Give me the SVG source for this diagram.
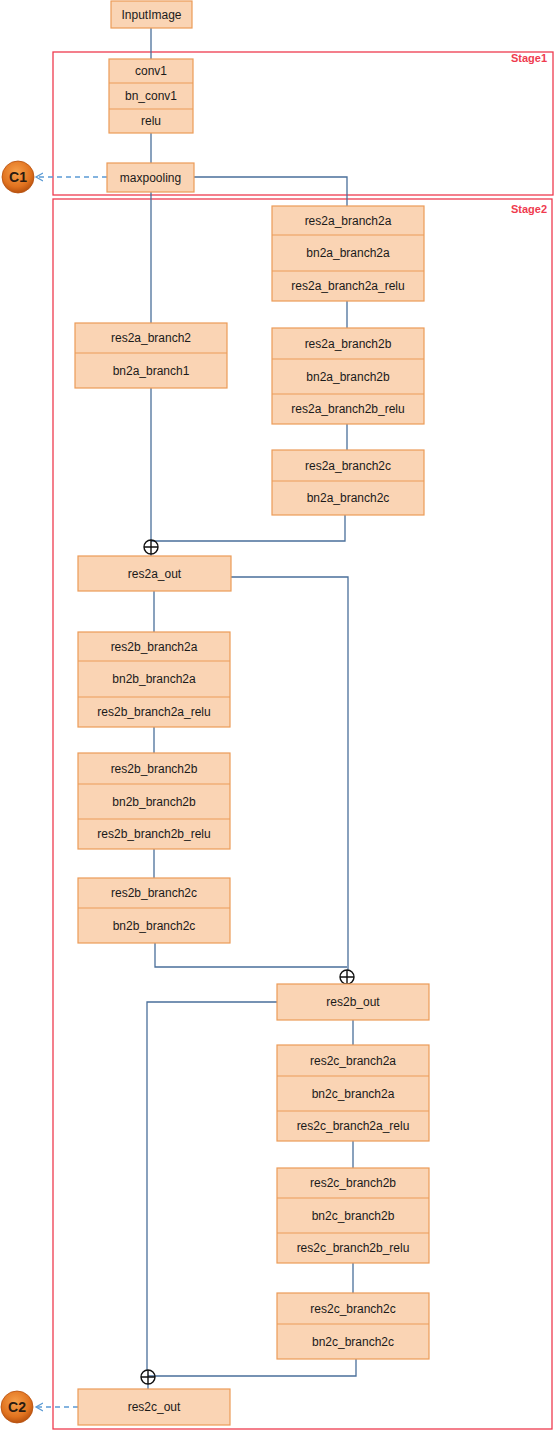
<svg xmlns="http://www.w3.org/2000/svg" width="554" height="1431" viewBox="0 0 554 1431">
<style>
.box{fill:#fad4b4;stroke:#eb9b58;stroke-width:1.2}
.div{stroke:#eb9b58;stroke-width:1.2}
.t{font-family:"Liberation Sans",Arial,sans-serif;font-size:12px;fill:#1a1a1a;text-anchor:middle}
.stage{fill:none;stroke:#ef3b4f;stroke-width:1.3}
.st{font-family:"Liberation Sans",Arial,sans-serif;font-size:11px;font-weight:bold;fill:#ef3b4f;text-anchor:end}
.c{fill:none;stroke:#4a6f9a;stroke-width:1.3}
.d{fill:none;stroke:#5b9bd5;stroke-width:1.3;stroke-dasharray:5,4}
.plus{fill:none;stroke:#111;stroke-width:1.4}
.cl{font-family:"Liberation Sans",Arial,sans-serif;font-size:14px;font-weight:bold;fill:#2a1a10;text-anchor:middle}
</style>
<defs>
<radialGradient id="og" cx="45%" cy="35%" r="65%">
<stop offset="0" stop-color="#f7a04a"/>
<stop offset="0.7" stop-color="#e0721f"/>
<stop offset="1" stop-color="#b8510e"/>
</radialGradient>
<marker id="ah" markerWidth="10" markerHeight="10" refX="7" refY="5" orient="auto" markerUnits="userSpaceOnUse">
<path d="M0,1 L7,5 L0,9" fill="none" stroke="#5b9bd5" stroke-width="1.3"/>
</marker>
</defs>

<g id="stages">
<rect class="stage" x="53" y="52" width="500" height="143"/>
<text class="st" x="547" y="62">Stage1</text>
<rect class="stage" x="53" y="199" width="499" height="1230"/>
<text class="st" x="547" y="213">Stage2</text>
</g>

<g id="C1">
<circle cx="18" cy="177" r="16" fill="url(#og)" stroke="#b8510e" stroke-width="0.8"/>
<text class="cl" x="18" y="182">C1</text>
</g>
<g id="C2">
<circle cx="17" cy="1407" r="16" fill="url(#og)" stroke="#b8510e" stroke-width="0.8"/>
<text class="cl" x="17" y="1412">C2</text>
</g>

<g id="connectors">
<path class="c" d="M151,28 V59"/>
<path class="c" d="M151,133 V163"/>
<path class="c" d="M151,192 V323"/>
<path class="c" d="M194,177 H347 V206"/>
<path class="c" d="M347,301 V328"/>
<path class="c" d="M347,424 V450"/>
<path class="c" d="M345,515 V541 H151"/>
<path class="c" d="M151,388 V540"/>
<path class="c" d="M151,554 V556"/>
<path class="c" d="M154,591 V632"/>
<path class="c" d="M231,577 H348 V970"/>
<path class="c" d="M154,727 V753"/>
<path class="c" d="M154,849 V878"/>
<path class="c" d="M155,943 V967 H347"/>
<path class="c" d="M353,1020 V1045"/>
<path class="c" d="M353,1141 V1168"/>
<path class="c" d="M353,1263 V1293"/>
<path class="c" d="M356,1359 V1376 H148"/>
<path class="c" d="M277,1002 H147 V1370"/>
<path class="c" d="M148,1384 V1389"/>
<path class="d" d="M107,177 H36" marker-end="url(#ah)"/>
<path class="d" d="M78,1407 H36" marker-end="url(#ah)"/>
<g id="adds">
<circle class="plus" cx="151" cy="547" r="7"/><path class="plus" d="M144,547 H158 M151,540 V554"/>
<circle class="plus" cx="347" cy="977" r="7"/><path class="plus" d="M340,977 H354 M347,970 V984"/>
<circle class="plus" cx="148" cy="1377" r="7"/><path class="plus" d="M141,1377 H155 M148,1370 V1384"/>
</g>
</g>

<g id="InputImage">
<rect class="box" x="111" y="1" width="81" height="27"/>
<text class="t" x="151.5" y="18.5">InputImage</text>
</g>

<g id="conv1">
<rect class="box" x="109" y="59" width="84" height="74"/>
<path class="div" d="M109,83 H193 M109,109 H193"/>
<text class="t" x="151" y="75">conv1</text>
<text class="t" x="151" y="100">bn_conv1</text>
<text class="t" x="151" y="125">relu</text>
</g>

<g id="maxpooling">
<rect class="box" x="107" y="163" width="87" height="29"/>
<text class="t" x="150.5" y="181.5">maxpooling</text>
</g>

<g id="res2a_branch2a">
<rect class="box" x="272" y="206" width="152" height="95"/>
<path class="div" d="M272,235 H424 M272,271 H424"/>
<text class="t" x="348" y="224.5">res2a_branch2a</text>
<text class="t" x="348" y="257">bn2a_branch2a</text>
<text class="t" x="348" y="290">res2a_branch2a_relu</text>
</g>

<g id="res2a_branch2b">
<rect class="box" x="272" y="328" width="152" height="96"/>
<path class="div" d="M272,359 H424 M272,394 H424"/>
<text class="t" x="348" y="347.5">res2a_branch2b</text>
<text class="t" x="348" y="380.5">bn2a_branch2b</text>
<text class="t" x="348" y="413">res2a_branch2b_relu</text>
</g>

<g id="res2a_branch2c">
<rect class="box" x="272" y="450" width="152" height="65"/>
<path class="div" d="M272,481 H424"/>
<text class="t" x="348" y="469.5">res2a_branch2c</text>
<text class="t" x="348" y="502">bn2a_branch2c</text>
</g>

<g id="res2a_branch1">
<rect class="box" x="75" y="323" width="152" height="65"/>
<path class="div" d="M75,353 H227"/>
<text class="t" x="151" y="342">res2a_branch2</text>
<text class="t" x="151" y="374.5">bn2a_branch1</text>
</g>

<g id="res2a_out">
<rect class="box" x="78" y="556" width="153" height="35"/>
<text class="t" x="154.5" y="577.5">res2a_out</text>
</g>

<g id="res2b_branch2a">
<rect class="box" x="78" y="632" width="152" height="95"/>
<path class="div" d="M78,661 H230 M78,697 H230"/>
<text class="t" x="154" y="650.5">res2b_branch2a</text>
<text class="t" x="154" y="683">bn2b_branch2a</text>
<text class="t" x="154" y="716">res2b_branch2a_relu</text>
</g>

<g id="res2b_branch2b">
<rect class="box" x="78" y="753" width="152" height="96"/>
<path class="div" d="M78,784 H230 M78,819 H230"/>
<text class="t" x="154" y="772.5">res2b_branch2b</text>
<text class="t" x="154" y="805.5">bn2b_branch2b</text>
<text class="t" x="154" y="838">res2b_branch2b_relu</text>
</g>

<g id="res2b_branch2c">
<rect class="box" x="78" y="878" width="152" height="65"/>
<path class="div" d="M78,908 H230"/>
<text class="t" x="154" y="897">res2b_branch2c</text>
<text class="t" x="154" y="929.5">bn2b_branch2c</text>
</g>

<g id="res2b_out">
<rect class="box" x="277" y="984" width="152" height="36"/>
<text class="t" x="353" y="1006">res2b_out</text>
</g>

<g id="res2c_branch2a">
<rect class="box" x="277" y="1045" width="152" height="96"/>
<path class="div" d="M277,1076 H429 M277,1111 H429"/>
<text class="t" x="353" y="1064.5">res2c_branch2a</text>
<text class="t" x="353" y="1097.5">bn2c_branch2a</text>
<text class="t" x="353" y="1130">res2c_branch2a_relu</text>
</g>

<g id="res2c_branch2b">
<rect class="box" x="277" y="1168" width="152" height="95"/>
<path class="div" d="M277,1198 H429 M277,1233 H429"/>
<text class="t" x="353" y="1187">res2c_branch2b</text>
<text class="t" x="353" y="1219.5">bn2c_branch2b</text>
<text class="t" x="353" y="1252">res2c_branch2b_relu</text>
</g>

<g id="res2c_branch2c">
<rect class="box" x="277" y="1293" width="152" height="66"/>
<path class="div" d="M277,1324 H429"/>
<text class="t" x="353" y="1312.5">res2c_branch2c</text>
<text class="t" x="353" y="1345.5">bn2c_branch2c</text>
</g>

<g id="res2c_out">
<rect class="box" x="78" y="1389" width="152" height="36"/>
<text class="t" x="154" y="1411">res2c_out</text>
</g>
</svg>
